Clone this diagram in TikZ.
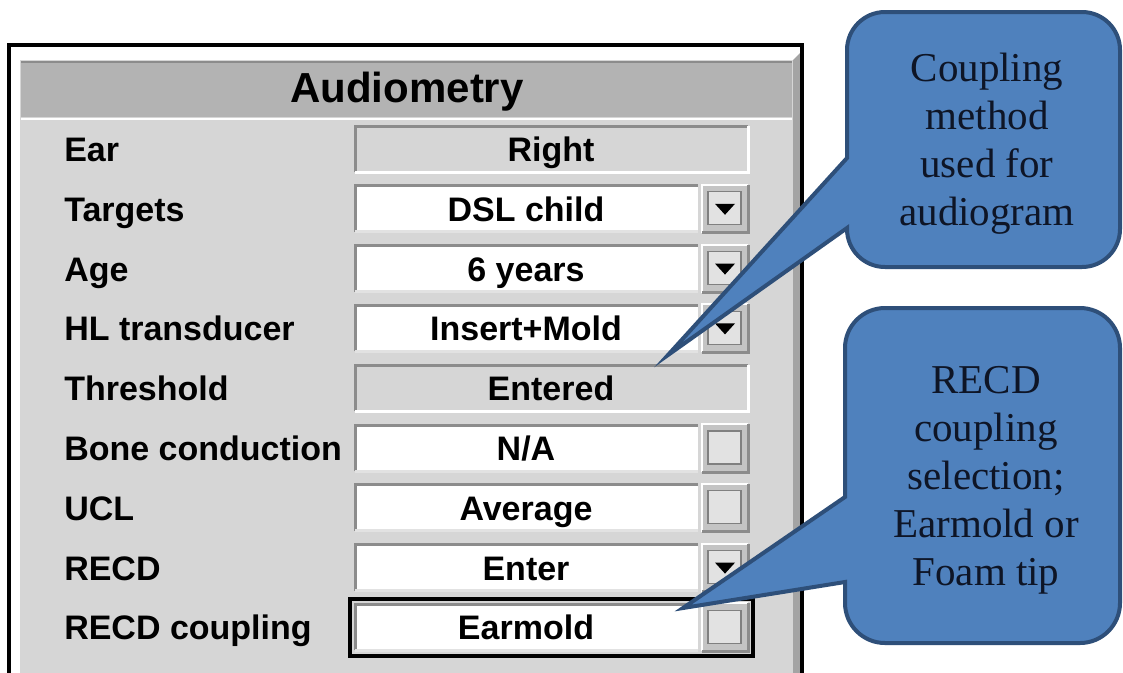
\documentclass[tikz,border=0pt]{standalone}
\usepackage{fontspec}
\setmainfont{Liberation Serif}
\newfontfamily\uifont{Liberation Sans}
\definecolor{panelgrey}{HTML}{D6D6D6}
\definecolor{headgrey}{HTML}{B3B3B3}
\definecolor{edgedark}{HTML}{8C8C8C}
\definecolor{bevelgrey}{HTML}{A4A4A4}
\definecolor{btngrey}{HTML}{C4C4C4}
\definecolor{btnlight}{HTML}{E2E2E2}
\definecolor{callfill}{HTML}{4F81BD}
\definecolor{calledge}{HTML}{2E4F79}
\definecolor{calltext}{HTML}{0E1526}
\tikzset{
  uitext/.style={inner sep=0pt, font=\uifont\bfseries\fontsize{25.5}{30}\selectfont},
  lab/.style={uitext, anchor=base west},
  val/.style={uitext, anchor=base},
  sunkdark/.style={draw=edgedark, line width=2.25pt},
  sunklight/.style={draw=white, line width=2.25pt},
  btnface/.style={fill=btngrey},
  btninner/.style={draw=gray, fill=btnlight, line width=0.9pt},
  calloutshape/.style={fill=callfill, draw=calledge, line width=3pt},
  calltxt/.style={align=center, text=calltext, inner sep=0pt, font=\fontsize{30.75}{36}\selectfont},
}
\begin{document}
\begin{tikzpicture}[x=0.75pt,y=-0.75pt]
\useasboundingbox (0,0) rectangle (1123,672);
\clip (0,0) rectangle (1123,672);
\fill[white] (0,0) rectangle (1123,672);
% window frame
\fill[white] (9,45) rectangle (802,700);
\fill[panelgrey] (20,60) rectangle (793,700);
\fill[bevelgrey] (793,60) -- (800,53) -- (800,700) -- (793,700) -- cycle;
\fill[headgrey] (21,62) rectangle (792,117);
\draw[edgedark, line width=0.9pt] (21,62) -- (792,62);
\draw[white, line width=1.5pt] (21,118.5) -- (792,118.5);
\draw[black, line width=3pt] (9,700) -- (9,45) -- (802,45) -- (802,700);
\node[anchor=base, inner sep=0pt, font=\uifont\bfseries\fontsize{31.5}{36}\selectfont] (title) at (407,102) {Audiometry};
% rows
\foreach \i/\lab/\val/\k in {1/Ear/Right/0, 2/Targets/DSL child/1, 3/Age/6 years/1, 4/HL transducer/Insert+Mold/1, 5/Threshold/Entered/0, 6/Bone conduction/{N/A}/2, 7/UCL/Average/2, 8/RECD/Enter/1, 9/RECD coupling/Earmold/2}{
  \pgfmathsetmacro\rowT{126+59.8*(\i-1)}
  \pgfmathsetmacro\rowB{\rowT+46}
  \pgfmathsetmacro\rowC{\rowT+23}
  \pgfmathsetmacro\rowBL{\rowC+12.5}
  \node[lab] (l\i) at (64,\rowBL) {\lab};
  \ifnum\k=0
    \fill[panelgrey] (355,\rowT) rectangle (748,\rowB);
    \draw[sunkdark] (355,\rowB) -- (355,\rowT) -- (748,\rowT);
    \draw[sunklight] (355,\rowB) -- (748,\rowB) -- (748,\rowT);
    \node[val] (v\i) at (551,\rowBL) {\val};
  \else
    \fill[white] (355,\rowT) rectangle (698,\rowB);
    \draw[sunkdark] (355,\rowB) -- (355,\rowT) -- (698,\rowT);
    \draw[draw=btnlight, line width=2.25pt] (355,\rowB) -- (698,\rowB);
    \node[val] (v\i) at (526,\rowBL) {\val};
    \pgfmathsetmacro\bT{\rowT-1}
    \pgfmathsetmacro\bB{\rowT+47}
    \fill[btnface] (702,\bT) rectangle (748,\bB);
    \draw[white, line width=1.5pt] (702,\bB) -- (702,\bT) -- (748,\bT);
    \draw[edgedark, line width=2.25pt] (702,\bB) -- (748,\bB) -- (748,\bT);
    \draw[btninner] (708,{\rowT+6}) rectangle (741,{\rowB-7});
    \ifnum\k=1
      \fill[black] (715,{\rowC-5}) -- (735,{\rowC-5}) -- (725,{\rowC+6}) -- cycle;
    \fi
  \fi
}
\draw[black, line width=3pt] (350,599) rectangle (753,656);
% callout 1
\coordinate (tip1) at (668,355);
\draw[calloutshape] (885,12) -- (1082,12) arc[start angle=270, end angle=360, radius=38]
  -- (1120,229) arc[start angle=0, end angle=90, radius=38]
  -- (885,267) arc[start angle=90, end angle=180, radius=38]
  -- (847,228) -- (tip1) -- (847,158)
  -- (847,50) arc[start angle=180, end angle=270, radius=38] -- cycle;
\node[calltxt] (c1) at (987,144) {Coupling\\method\\used for\\audiogram};
% callout 2
\coordinate (tip2) at (683,608);
\draw[calloutshape] (885,308) -- (1080,308) arc[start angle=270, end angle=360, radius=40]
  -- (1120,603) arc[start angle=0, end angle=90, radius=40]
  -- (885,643) arc[start angle=90, end angle=180, radius=40]
  -- (845,582) -- (tip2) -- (845,497)
  -- (845,348) arc[start angle=180, end angle=270, radius=40] -- cycle;
\node[calltxt] (c2) at (986,480) {RECD\\coupling\\selection;\\Earmold or\\Foam tip};
\end{tikzpicture}
\end{document}
